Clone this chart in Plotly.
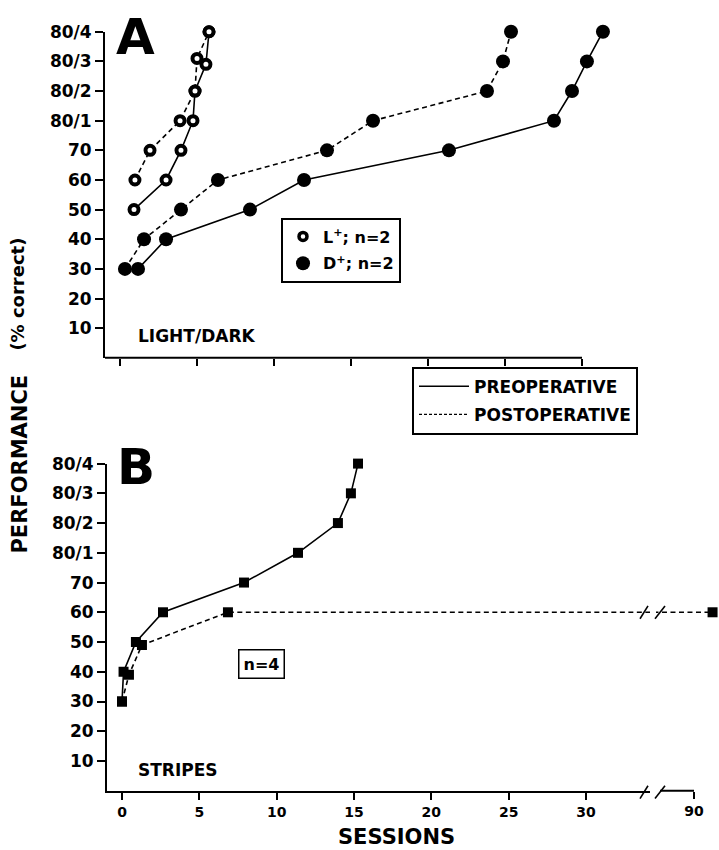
import plotly.graph_objects as go

W, H = 719, 850
FONT = "DejaVu Sans"

# ---------------- data ----------------
level_vals = [10, 20, 30, 40, 50, 60, 70, 80, 90, 100, 110]
level_text = ["10", "20", "30", "40", "50", "60", "70", "80/1", "80/2", "80/3", "80/4"]
session_ticks = [0, 5, 10, 15, 20, 25, 30]
session_text = ["0", "5", "10", "15", "20", "25", "30"]
break_ticks = [90]
break_text = ["90"]

# Panel A  (LIGHT/DARK)
a_lplus_pre_x = [0.91, 2.99, 3.96, 4.74, 4.87, 5.58, 5.78]
a_lplus_pre_y = [50, 60, 70, 80, 90, 99, 110]
a_lplus_post_x = [0.97, 1.95, 3.9, 4.87, 5.0, 5.78]
a_lplus_post_y = [60, 70, 80, 90, 101, 110]
a_dplus_pre_x = [1.17, 2.99, 8.44, 11.95, 21.36, 28.18, 29.35, 30.32, 31.36]
a_dplus_pre_y = [30, 40, 50, 60, 70, 80, 90, 100, 110]
a_dplus_post_x = [0.32, 1.56, 3.96, 6.36, 13.44, 16.43, 23.83, 24.87, 25.39]
a_dplus_post_y = [30, 40, 50, 60, 70, 80, 90, 100, 110]

# Panel B  (STRIPES)
b_pre_x = [0.0, 0.1, 0.9, 2.65, 7.89, 11.38, 13.96, 14.8, 15.26]
b_pre_y = [30, 40, 50, 60, 70, 80, 90, 100, 110]
b_post_x = [0.0, 0.45, 1.29, 6.85, 91.2]
b_post_y = [30, 39, 49, 60, 60]

# ---------------- geometry (pixels) ----------------
A_Y0, A_Y1 = 352, 22          # y of level 0 and level 110
A_XL, A_XR = 105, 640         # plot area left/right
A_ZERO, A_SCALE = 120, 15.4   # px of session 0, px per session

B_Y0, B_Y1 = 790, 459
B_XL, B_XR = 107, 650
B_ZERO, B_SCALE = 122, 15.467
B3_XL, B3_XR, B3_90 = 656, 719, 694

BLACK = "black"
solid = dict(color=BLACK, width=1.6)
dashed = dict(color=BLACK, width=1.6, dash="5px,3.5px")
open_m = dict(symbol="circle", size=9, color="white", line=dict(color=BLACK, width=4))
fill_m = dict(symbol="circle", size=14, color=BLACK, line=dict(width=0))
sq_m = dict(symbol="square", size=10, color=BLACK, line=dict(width=0))

fig = go.Figure()

def add(x, y, line, marker, xa="x", ya="y"):
    fig.add_trace(go.Scatter(x=x, y=y, mode="lines+markers", line=line, marker=marker,
                             xaxis=xa, yaxis=ya, showlegend=False, cliponaxis=False,
                             hoverinfo="skip"))

add(a_dplus_pre_x, a_dplus_pre_y, solid, fill_m)
add(a_dplus_post_x, a_dplus_post_y, dashed, fill_m)
add(a_lplus_pre_x, a_lplus_pre_y, solid, open_m)
add(a_lplus_post_x, a_lplus_post_y, dashed, open_m)

add(b_pre_x, b_pre_y, solid, sq_m, "x2", "y2")
add(b_post_x, b_post_y, dashed, sq_m, "x2", "y2")
add(b_post_x, b_post_y, dashed, sq_m, "x3", "y2")

# legend entries
fig.add_trace(go.Scatter(x=[None], y=[None], mode="markers",
                         marker=dict(symbol="circle", size=8, color="white", line=dict(color=BLACK, width=3.5)),
                         name="L<sup>+</sup>; n=2", legend="legend", legendgroup="g1"))
fig.add_trace(go.Scatter(x=[None], y=[None], mode="markers", marker=dict(symbol="circle", size=14, color=BLACK),
                         name="D<sup>+</sup>; n=2", legend="legend", legendgroup="g2"))
fig.add_trace(go.Scatter(x=[None], y=[None], mode="lines", line=dict(color=BLACK, width=1.5),
                         name="PREOPERATIVE", legend="legend2", legendgroup="g3"))
fig.add_trace(go.Scatter(x=[None], y=[None], mode="lines", line=dict(color=BLACK, width=1.3, dash="3px,2px"),
                         name="POSTOPERATIVE", legend="legend2", legendgroup="g4"))

tickfont_y = dict(family=FONT, size=17, color=BLACK, weight="bold")
tickfont_x = dict(family=FONT, size=14, color=BLACK, weight="bold")

def yaxis(y0, y1):
    return dict(domain=[1 - y0 / H, 1 - y1 / H], range=[0, 110], tickvals=level_vals, ticktext=level_text,
                ticks="outside", ticklen=8, tickwidth=2, tickcolor=BLACK, showline=True, linewidth=2,
                linecolor=BLACK, showgrid=False, zeroline=False, tickfont=tickfont_y, fixedrange=True)

fig.update_layout(
    width=W, height=H, margin=dict(l=0, r=0, t=0, b=0), autosize=False,
    paper_bgcolor="white", plot_bgcolor="white",
    xaxis=dict(domain=[A_XL / W, A_XR / W], anchor="y",
               range=[(A_XL - A_ZERO) / A_SCALE, (A_XR - A_ZERO) / A_SCALE],
               tickvals=session_ticks, showticklabels=False, ticks="outside", ticklen=7, tickwidth=2,
               tickcolor=BLACK, showline=False, showgrid=False, zeroline=False),
    yaxis=dict(anchor="x", **yaxis(A_Y0, A_Y1)),
    xaxis2=dict(domain=[B_XL / W, B_XR / W], anchor="y2",
                range=[(B_XL - B_ZERO) / B_SCALE, (B_XR - B_ZERO) / B_SCALE],
                tickvals=session_ticks, ticktext=session_text, ticks="outside", ticklen=7, tickwidth=2,
                tickcolor=BLACK, showline=True, linewidth=2, linecolor=BLACK, showgrid=False,
                zeroline=False, tickfont=tickfont_x),
    yaxis2=dict(anchor="x2", **yaxis(B_Y0, B_Y1)),
    xaxis3=dict(domain=[B3_XL / W, B3_XR / W], anchor="y2",
                range=[90 - (B3_90 - B3_XL) / B_SCALE, 90 + (B3_XR - B3_90) / B_SCALE],
                tickvals=break_ticks, ticktext=break_text, ticks="outside", ticklen=7, tickwidth=2,
                tickcolor=BLACK, showline=False, showgrid=False, zeroline=False, tickfont=tickfont_x),
    legend=dict(x=281 / W, y=1 - 210 / H, xanchor="left", yanchor="top", bordercolor=BLACK,
                borderwidth=2, bgcolor="white", tracegroupgap=3,
                font=dict(family=FONT, size=16, color=BLACK, weight="bold")),
    legend2=dict(x=412 / W, y=1 - 361 / H, xanchor="left", yanchor="top", bordercolor=BLACK,
                 borderwidth=2, bgcolor="white", itemwidth=50, tracegroupgap=3,
                 font=dict(family=FONT, size=17, color=BLACK, weight="bold")),
)

# axis-line pieces (broken / shortened axes)
fig.add_shape(type="line", xref="x", yref="y domain", x0=(A_XL - A_ZERO) / A_SCALE, x1=30, y0=0, y1=0,
              line=dict(color=BLACK, width=2))
fig.add_shape(type="line", xref="x3", yref="y2 domain", x0=90 - (B3_90 - 660) / B_SCALE, x1=90, y0=0, y1=0,
              line=dict(color=BLACK, width=2))
# break marks
for yy in (610, 792):
    for (xa, xb) in ((640, 648), (655, 665)):
        fig.add_shape(type="line", xref="paper", yref="paper", x0=xa / W, x1=xb / W,
                      y0=1 - (yy + 6) / H, y1=1 - (yy - 7) / H, line=dict(color=BLACK, width=1.6))

def ann(text, x, y, size, **kw):
    d = dict(text=text, x=x / W, y=1 - y / H, xref="paper", yref="paper", showarrow=False,
             font=dict(family=FONT, size=size, color=BLACK, weight="bold"))
    d.setdefault("xanchor", "center")
    d.setdefault("yanchor", "middle")
    d.update(kw)
    fig.add_annotation(**d)

ann("A", 135, 27, 50)
ann("B", 136, 462, 50)
ann("LIGHT/DARK", 136, 330, 17, xanchor="left")
ann("STRIPES", 136, 769, 17, xanchor="left")
ann("n=4", 261.5, 662, 16, bordercolor=BLACK, borderwidth=1.5, borderpad=4, bgcolor="white")
ann("PERFORMANCE", 20, 460, 21, textangle=-90)
ann("(% correct)", 18, 288, 18, textangle=-90)
ann("SESSIONS", 396, 837, 21)

fig.write_html("out.html")
